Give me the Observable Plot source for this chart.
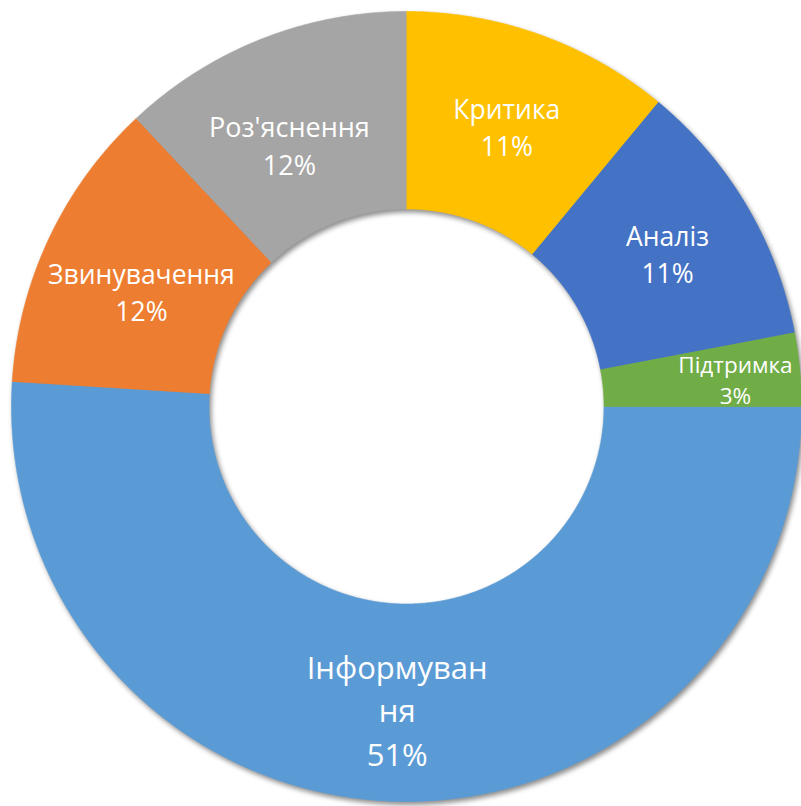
<!DOCTYPE html>
<html><head><meta charset="utf-8">
<script src="https://cdn.jsdelivr.net/npm/d3@7"></script>
<script src="https://cdn.jsdelivr.net/npm/@observablehq/plot@0.6"></script>
<style>
html,body{margin:0;padding:0;background:#fff;}
#chart svg{display:block;}
#chart svg g[aria-label="line"]{filter: drop-shadow(2px 3px 2.5px rgba(0,0,0,0.45));}
</style></head><body><div id="chart"></div>
<script>
// ---- data ----
const categories = ["Інформування", "Звинувачення", "Роз'яснення", "Критика", "Аналіз", "Підтримка"];
const labelNames = ["Інформуван\nня", "Звинувачення", "Роз'яснення", "Критика", "Аналіз", "Підтримка"];
const shares = [51, 12, 12, 11, 11, 3];
const colors = ["#5B9BD5", "#ED7D31", "#A5A5A5", "#FFC000", "#4472C4", "#70AD47"];

// ---- layout (px) ----
const W = 801, H = 806, CX = 406, CY = 406, R = 395;
const innerRatio = 0.5;
const labelSize = [31, 26.5, 27, 26.5, 26.5, 22.5];
const labelNudge = [[0, 6], [3, 10], [-8, 13], [0, -2], [6, -3], [34, 0]];

const total = d3.sum(shares);
let cum = 0;
const slices = shares.map((v, i) => {
  const a0 = cum / total * 2 * Math.PI; cum += v;
  const a1 = cum / total * 2 * Math.PI;
  return {name: categories[i], v, a0, a1, i};
});

// polygon outline for each ring segment (clockwise from 3 o'clock)
const ringPts = [];
for (const s of slices) {
  const n = Math.max(2, Math.ceil((s.a1 - s.a0) / (Math.PI / 360)));
  for (let k = 0; k <= n; k++) {
    const a = s.a0 + (s.a1 - s.a0) * k / n;
    ringPts.push({name: s.name, x: Math.cos(-a), y: Math.sin(-a)});
  }
  for (let k = n; k >= 0; k--) {
    const a = s.a0 + (s.a1 - s.a0) * k / n;
    ringPts.push({name: s.name, x: innerRatio * Math.cos(-a), y: innerRatio * Math.sin(-a)});
  }
}

const labels = slices.map(s => {
  const am = (s.a0 + s.a1) / 2, rm = (1 + innerRatio) / 2;
  const [nx, ny] = labelNudge[s.i];
  return {
    x: rm * Math.cos(-am) + nx / R,
    y: rm * Math.sin(-am) - ny / R,
    text: labelNames[s.i] + "\n" + d3.format(".0%")(s.v / total),
    size: labelSize[s.i]
  };
});

const plot = Plot.plot({
  width: W, height: H, margin: 0,
  x: {domain: [-CX / R, (W - CX) / R], axis: null},
  y: {domain: [-(H - CY) / R, CY / R], axis: null},
  color: {domain: categories, range: colors},
  style: {fontFamily: "'Open Sans', sans-serif", background: "#fff"},
  marks: [
    Plot.line(ringPts, {x: "x", y: "y", z: "name", fill: "name", stroke: "name", strokeWidth: 0.6, curve: "linear"}),
    Plot.text(labels, {x: "x", y: "y", text: "text", fill: "white", fontSize: "size", lineHeight: 1.4, fontFamily: "'Open Sans', sans-serif", textAnchor: "middle", lineAnchor: "middle"})
  ]
});
document.getElementById("chart").appendChild(plot);
</script>
</body></html>
